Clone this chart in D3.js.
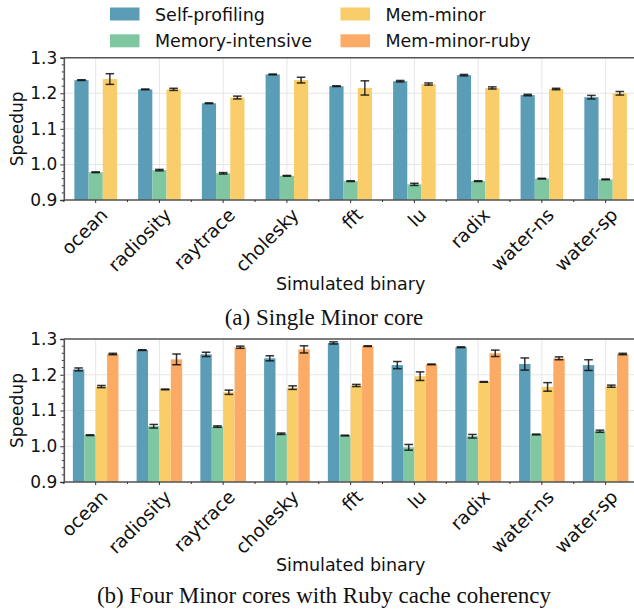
<!doctype html>
<html>
<head>
<meta charset="utf-8"/>
<style>
  body { margin: 0; background: #fff; }
  svg { display: block; }
</style>
</head>
<body>
<script src="https://cdn.jsdelivr.net/npm/d3@7"></script>
<script>

const benchmarks = ['ocean', 'radiosity', 'raytrace', 'cholesky', 'fft', 'lu', 'radix', 'water-ns', 'water-sp'];
const seriesNames = ['Self-profiling', 'Memory-intensive', 'Mem-minor', 'Mem-minor-ruby'];
const seriesColors = ['#5b9cb6', '#7ec7a1', '#f9cd69', '#fbab66'];
const yTicks = [0.9, 1.0, 1.1, 1.2, 1.3];

// (a) single Minor core
const singleSelf = [1.237, 1.211, 1.172, 1.253, 1.220, 1.234, 1.251, 1.195, 1.189];
const singleSelfErr = [0.001, 0.001, 0.001, 0.001, 0.001, 0.002, 0.002, 0.002, 0.005];
const singleMem = [0.978, 0.984, 0.975, 0.968, 0.953, 0.944, 0.953, 0.960, 0.958];
const singleMemErr = [0.001, 0.002, 0.002, 0.001, 0.001, 0.003, 0.001, 0.001, 0.001];
const singleMinor = [1.240, 1.211, 1.188, 1.237, 1.215, 1.226, 1.215, 1.212, 1.200];
const singleMinorErr = [0.015, 0.003, 0.004, 0.008, 0.020, 0.003, 0.003, 0.002, 0.005];

// (b) four Minor cores, Ruby
const fourSelf = [1.215, 1.269, 1.257, 1.246, 1.289, 1.227, 1.277, 1.230, 1.227];
const fourSelfErr = [0.004, 0.001, 0.006, 0.007, 0.003, 0.010, 0.001, 0.017, 0.015];
const fourMem = [1.031, 1.056, 1.055, 1.035, 1.030, 0.997, 1.028, 1.033, 1.042];
const fourMemErr = [0.001, 0.005, 0.002, 0.002, 0.001, 0.008, 0.005, 0.001, 0.003];
const fourMinor = [1.167, 1.159, 1.151, 1.164, 1.170, 1.196, 1.180, 1.166, 1.168];
const fourMinorErr = [0.003, 0.001, 0.006, 0.005, 0.003, 0.012, 0.001, 0.012, 0.003];
const fourRuby = [1.258, 1.243, 1.277, 1.271, 1.280, 1.229, 1.260, 1.246, 1.258];
const fourRubyErr = [0.002, 0.015, 0.003, 0.010, 0.001, 0.001, 0.009, 0.004, 0.002];

const W = 634, H = 613;
const sans = 'DejaVu Sans, sans-serif';
const serif = 'Liberation Serif, Times New Roman, serif';

const svg = d3.select('body').append('svg')
  .attr('width', W).attr('height', H);

// the axes run past the right edge of the picture (cropped figure)
const x = d3.scaleBand().domain(benchmarks).range([63.8, 637.5]).padding(0);
const axisMid = 350.6;

function drawPanel(top, bottom, series, groupHalf, xlabelY, caption, captionY) {
  const y = d3.scaleLinear().domain([0.9, 1.3]).range([bottom, top]);
  const inner = d3.scaleBand().domain(series.map(s => s.name)).range([-groupHalf, groupHalf]);
  const g = svg.append('g');

  // grid
  g.append('g').selectAll('line').data(yTicks).join('line')
    .attr('x1', 63.8).attr('x2', W).attr('y1', d => y(d)).attr('y2', d => y(d))
    .attr('stroke', '#e6e6e6').attr('stroke-width', 1);
  g.append('g').selectAll('line').data(benchmarks).join('line')
    .attr('x1', d => x(d) + x.bandwidth() / 2).attr('x2', d => x(d) + x.bandwidth() / 2)
    .attr('y1', top).attr('y2', bottom)
    .attr('stroke', '#e6e6e6').attr('stroke-width', 1);

  // bars + error bars
  series.forEach(s => {
    const data = benchmarks.map((b, i) => ({ b, v: s.values[i], e: s.errors[i] }));
    const cx = d => x(d.b) + x.bandwidth() / 2 + inner(s.name) + inner.bandwidth() / 2;
    g.append('g').selectAll('rect').data(data).join('rect')
      .attr('x', d => x(d.b) + x.bandwidth() / 2 + inner(s.name))
      .attr('width', inner.bandwidth())
      .attr('y', d => y(d.v))
      .attr('height', d => y(0.9) - y(d.v))
      .attr('fill', s.color);
    const eb = g.append('g').attr('stroke', '#111').attr('stroke-opacity', 0.85).attr('stroke-width', 1.5);
    eb.selectAll('.v').data(data).join('line').attr('class', 'v')
      .attr('x1', cx).attr('x2', cx)
      .attr('y1', d => y(d.v - d.e)).attr('y2', d => y(d.v + d.e));
    eb.selectAll('.c1').data(data).join('line').attr('class', 'c1')
      .attr('x1', d => cx(d) - 4.3).attr('x2', d => cx(d) + 4.3)
      .attr('y1', d => y(d.v + d.e)).attr('y2', d => y(d.v + d.e));
    eb.selectAll('.c2').data(data).join('line').attr('class', 'c2')
      .attr('x1', d => cx(d) - 4.3).attr('x2', d => cx(d) + 4.3)
      .attr('y1', d => y(d.v - d.e)).attr('y2', d => y(d.v - d.e));
  });

  // spines
  g.append('line').attr('x1', 63.8).attr('x2', W).attr('y1', top).attr('y2', top)
    .attr('stroke', '#555').attr('stroke-width', 1.6);
  g.append('line').attr('x1', 63.8).attr('x2', W).attr('y1', bottom).attr('y2', bottom)
    .attr('stroke', '#555').attr('stroke-width', 1.6);

  // y axis
  const yAxis = g.append('g').attr('transform', 'translate(63.8,0)')
    .call(d3.axisLeft(y).tickValues(yTicks).tickFormat(d3.format('.1f')).tickSize(3.5).tickPadding(3));
  yAxis.select('.domain').attr('stroke', '#555').attr('stroke-width', 1.6);
  yAxis.selectAll('.tick line').attr('stroke', '#333');
  yAxis.selectAll('text').attr('font-family', sans).attr('font-size', 17).attr('fill', '#111');
  g.append('g').selectAll('line').data(d3.range(0.92, 1.3, 0.02).filter(v => Math.abs(v * 10 - Math.round(v * 10)) > 0.01))
    .join('line')
    .attr('x1', 61.8).attr('x2', 63.8).attr('y1', d => y(d)).attr('y2', d => y(d))
    .attr('stroke', '#333').attr('stroke-width', 1);

  // x axis
  const xAxis = g.append('g').attr('transform', `translate(0,${bottom})`)
    .call(d3.axisBottom(x).tickSize(3).tickPadding(4));
  xAxis.select('.domain').remove();
  xAxis.selectAll('.tick line').attr('stroke', '#333');
  xAxis.selectAll('text')
    .attr('font-family', sans).attr('font-size', 18.5).attr('fill', '#111')
    .attr('text-anchor', 'end').attr('dy', '0.4em')
    .attr('transform', 'translate(3,6) rotate(-45)');
  g.append('g').selectAll('line').data(benchmarks).join('line')
    .attr('x1', d => x(d)).attr('x2', d => x(d)).attr('y1', bottom).attr('y2', bottom + 2)
    .attr('stroke', '#333').attr('stroke-width', 1);

  g.append('text').text('Speedup')
    .attr('transform', `translate(23,${(top + bottom) / 2}) rotate(-90)`)
    .attr('text-anchor', 'middle')
    .attr('font-family', sans).attr('font-size', 17).attr('fill', '#111');

  g.append('text').text('Simulated binary')
    .attr('x', axisMid).attr('y', xlabelY).attr('text-anchor', 'middle')
    .attr('font-family', sans).attr('font-size', 17.5).attr('fill', '#111');

  g.append('text').text(caption)
    .attr('x', 324).attr('y', captionY).attr('text-anchor', 'middle')
    .attr('font-family', serif).attr('font-size', 23).attr('fill', '#111');
}

drawPanel(57.7, 200, [
  { name: seriesNames[0], color: seriesColors[0], values: singleSelf, errors: singleSelfErr },
  { name: seriesNames[1], color: seriesColors[1], values: singleMem, errors: singleMemErr },
  { name: seriesNames[2], color: seriesColors[2], values: singleMinor, errors: singleMinorErr }
], 21.3, 290, '(a) Single Minor core', 325);

drawPanel(339, 482, [
  { name: seriesNames[0], color: seriesColors[0], values: fourSelf, errors: fourSelfErr },
  { name: seriesNames[1], color: seriesColors[1], values: fourMem, errors: fourMemErr },
  { name: seriesNames[2], color: seriesColors[2], values: fourMinor, errors: fourMinorErr },
  { name: seriesNames[3], color: seriesColors[3], values: fourRuby, errors: fourRubyErr }
], 22.8, 571, '(b) Four Minor cores with Ruby cache coherency', 603);

// legend, two columns
const legendPos = [[110, 7.5], [110, 34.3], [340.5, 7.5], [340.5, 34.3]];
const legend = svg.append('g').selectAll('g').data(seriesNames).join('g')
  .attr('transform', (d, i) => `translate(${legendPos[i][0]},${legendPos[i][1]})`);
legend.append('rect').attr('width', 29.5).attr('height', 13)
  .attr('fill', (d, i) => seriesColors[i]);
legend.append('text').text(d => d)
  .attr('x', 45).attr('y', 13)
  .attr('font-family', sans).attr('font-size', 17.5).attr('fill', '#111');

</script>
</body>
</html>
